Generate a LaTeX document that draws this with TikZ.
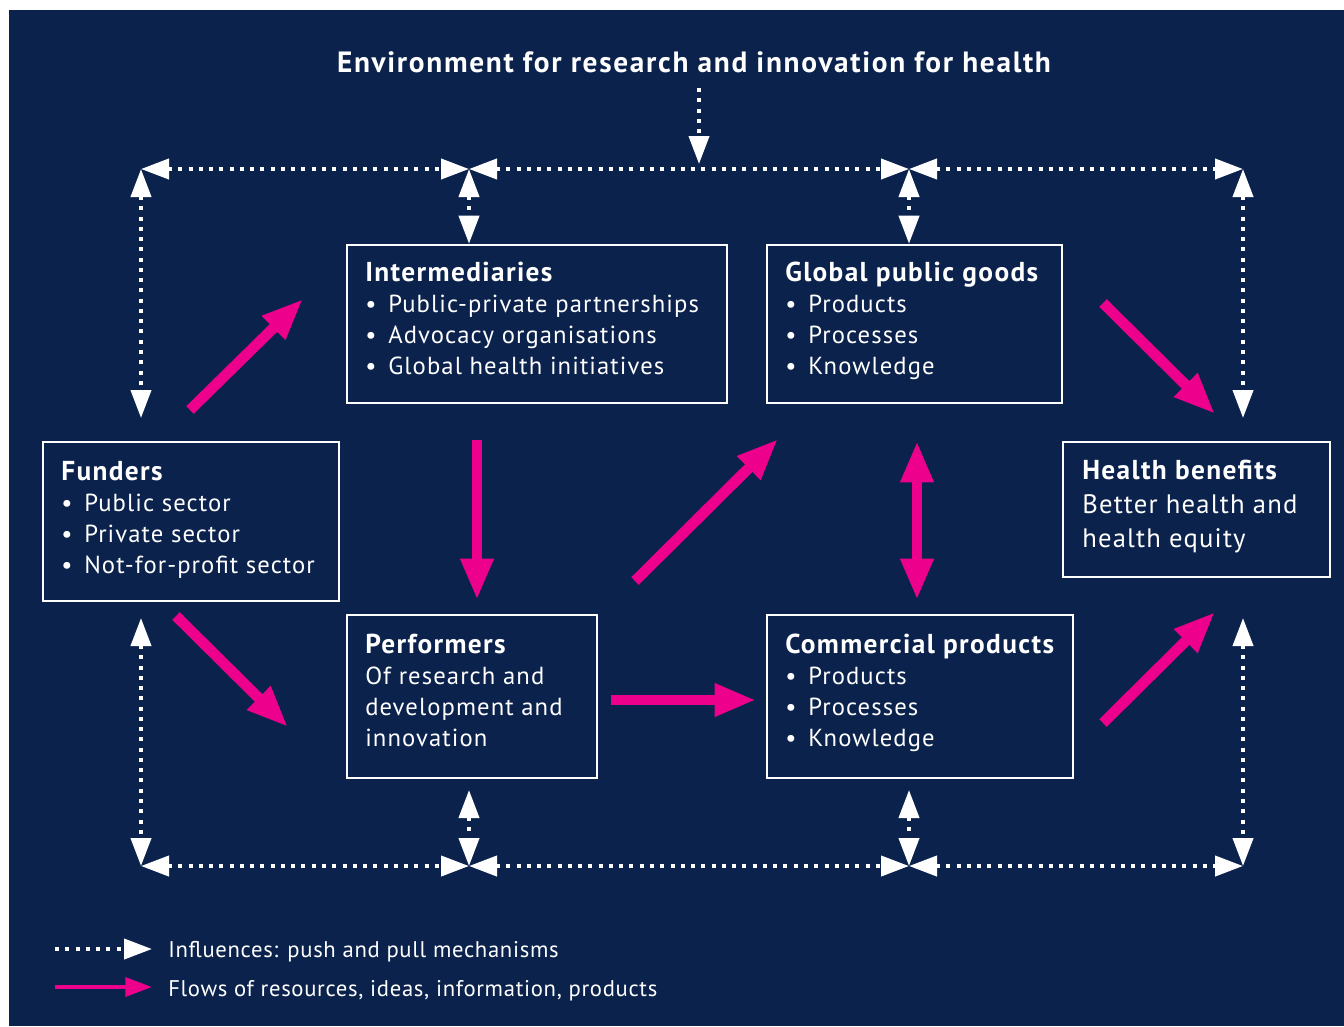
\documentclass[tikz,border=0pt]{standalone}
\usepackage{fontspec}
\setmainfont{PT Sans}[LetterSpace=4.4]
\newfontfamily\headfam{PT Sans}[LetterSpace=5]
\newfontfamily\titfam{PT Sans}[LetterSpace=5.75]
\newfontfamily\legfam{PT Sans}[LetterSpace=3]
\usetikzlibrary{arrows.meta}
\definecolor{bgblue}{HTML}{0B224C}
\definecolor{magen}{HTML}{EC008C}
\newcommand{\pxl}{0.75pt}
\newcommand{\bodyf}{\fontsize{18.5}{23.25}\selectfont}
\newcommand{\headf}{\headfam\fontsize{20.5}{23.25}\selectfont\bfseries}
\newcommand{\tstrut}{\rule{0pt}{17pt}}
\newcommand{\bitem}[1]{\makebox[17.25pt][l]{\textbullet}#1}
\begin{document}
\begin{tikzpicture}[x=0.75pt,y=-0.75pt,
  box/.style={draw=white,line width=1.9pt,inner sep=0pt},
  txt/.style={text=white,align=left,anchor=north west,inner sep=0pt,font=\bodyf},
  infl/.style={white,line width=3pt,dash pattern=on 3pt off 4.7pt,
    {Triangle[length=21pt,width=15pt]}-{Triangle[length=21pt,width=15pt]}},
  infls/.style={white,line width=3pt,dash pattern=on 3pt off 4.7pt,
    -{Triangle[length=21pt,width=15pt]}},
  flow/.style={magen,line width=8pt,-{Triangle[length=31pt,width=23pt]}},
  flow2/.style={magen,line width=8pt,{Triangle[length=31pt,width=23pt]}-{Triangle[length=31pt,width=23pt]}},
  flowleg/.style={magen,line width=3.4pt,-{Triangle[length=20pt,width=14pt]}},
  legt/.style={text=white,anchor=base west,inner sep=0pt,font={\legfam\fontsize{17}{20}\selectfont}},
]
\useasboundingbox (0,0) rectangle (1344,1026);
\fill[white] (0,0) rectangle (1344,1026);
\fill[bgblue] (9,10) rectangle (1344,1026);

% title
\node[text=white,anchor=base,inner sep=0pt,font={\titfam\fontsize{22}{26}\selectfont\bfseries}] (title) at (694,72)
  {Environment for research and innovation for health};

% boxes
\node[box,minimum width={296*\pxl},minimum height={159*\pxl}] (fund) at (191,521.5) {};
\node[box,minimum width={380*\pxl},minimum height={158*\pxl}] (inter) at (537,324) {};
\node[box,minimum width={295*\pxl},minimum height={158*\pxl}] (glob) at (914.5,324) {};
\node[box,minimum width={267*\pxl},minimum height={135*\pxl}] (health) at (1196.5,509.5) {};
\node[box,minimum width={250*\pxl},minimum height={163*\pxl}] (perf) at (472,696.5) {};
\node[box,minimum width={306*\pxl},minimum height={163*\pxl}] (comm) at (920,696.5) {};

% box texts
\node[txt] (fundt) at (61,457.33) {{\headf\tstrut Funders}\\
  \bitem{Public sector}\\ \bitem{Private sector}\\ \bitem{Not-for-profit sector}};
\node[txt] (intert) at (365,258.33) {{\headf\tstrut Intermediaries}\\
  \bitem{Public-private partnerships}\\ \bitem{Advocacy organisations}\\ \bitem{Global health initiatives}};
\node[txt] (globt) at (785,258.33) {{\headf\tstrut Global public goods}\\
  \bitem{Products}\\ \bitem{Processes}\\ \bitem{Knowledge}};
\node[txt,font={\fontsize{20}{25.5}\selectfont}] (healtht) at (1082,456.33) {{\headf\tstrut Health benefits}\\
  Better health and\\ health equity};
\node[txt] (perft) at (365,630.33) {{\headf\tstrut Performers}\\
  Of research and\\ development and\\ innovation};
\node[txt] (commt) at (785,630.33) {{\headf\tstrut Commercial products}\\
  \bitem{Products}\\ \bitem{Processes}\\ \bitem{Knowledge}};

% influence frame coordinates
\coordinate (tl) at (141,169);
\coordinate (tm1) at (469,169);
\coordinate (tm2) at (909,169);
\coordinate (tr) at (1243,169);
\coordinate (bl) at (141,866);
\coordinate (bm1) at (469,866);
\coordinate (bm2) at (909,866);
\coordinate (br) at (1243,866);
\coordinate (lu) at (141,418);
\coordinate (ld) at (141,618);
\coordinate (ru) at (1243,418);
\coordinate (rd) at (1243,618);
\coordinate (pu) at (469,790);
\coordinate (cu) at (909,790);
\coordinate (ts) at (699,88);
\coordinate (te) at (699,164);

\draw[infls] (ts) -- (te);
\draw[infl] (tl) -- (tm1);
\draw[infl] (tm1) -- (tm2);
\draw[infl] (tm2) -- (tr);
\draw[infl] (bl) -- (bm1);
\draw[infl] (bm1) -- (bm2);
\draw[infl] (bm2) -- (br);
\draw[infl] (tl) -- (lu);
\draw[infl] (ld) -- (bl);
\draw[infl] (tr) -- (ru);
\draw[infl] (rd) -- (br);
\draw[infl] (tm1) -- (tm1 |- inter.north);
\draw[infl] (tm2) -- (tm2 |- glob.north);
\draw[infl] (pu) -- (bm1);
\draw[infl] (cu) -- (bm2);

% flows
\coordinate (f1a) at (190,410); \coordinate (f1b) at (303,299);
\coordinate (f2a) at (176,616); \coordinate (f2b) at (288,727);
\coordinate (f3a) at (477,440); \coordinate (f3b) at (477,600);
\coordinate (f4a) at (635,581); \coordinate (f4b) at (778,439);
\coordinate (f5a) at (611,700); \coordinate (f5b) at (756,700);
\coordinate (f6a) at (917,441); \coordinate (f6b) at (917,600);
\coordinate (f7a) at (1103,303); \coordinate (f7b) at (1215,414);
\coordinate (f8a) at (1103,723); \coordinate (f8b) at (1215,612);
\draw[flow] (f1a) -- (f1b);
\draw[flow] (f2a) -- (f2b);
\draw[flow] (f3a) -- (f3b);
\draw[flow] (f4a) -- (f4b);
\draw[flow] (f5a) -- (f5b);
\draw[flow2] (f6a) -- (f6b);
\draw[flow] (f7a) -- (f7b);
\draw[flow] (f8a) -- (f8b);

% legend
\coordinate (l1a) at (55,949); \coordinate (l1b) at (152,949);
\coordinate (l2a) at (55,987); \coordinate (l2b) at (152,987);
\draw[infls] (l1a) -- (l1b);
\draw[flowleg] (l2a) -- (l2b);
\node[legt] (leg1) at (168,957) {Influences: push and pull mechanisms};
\node[legt] (leg2) at (168,996) {Flows of resources, ideas, information, products};
\end{tikzpicture}
\end{document}
